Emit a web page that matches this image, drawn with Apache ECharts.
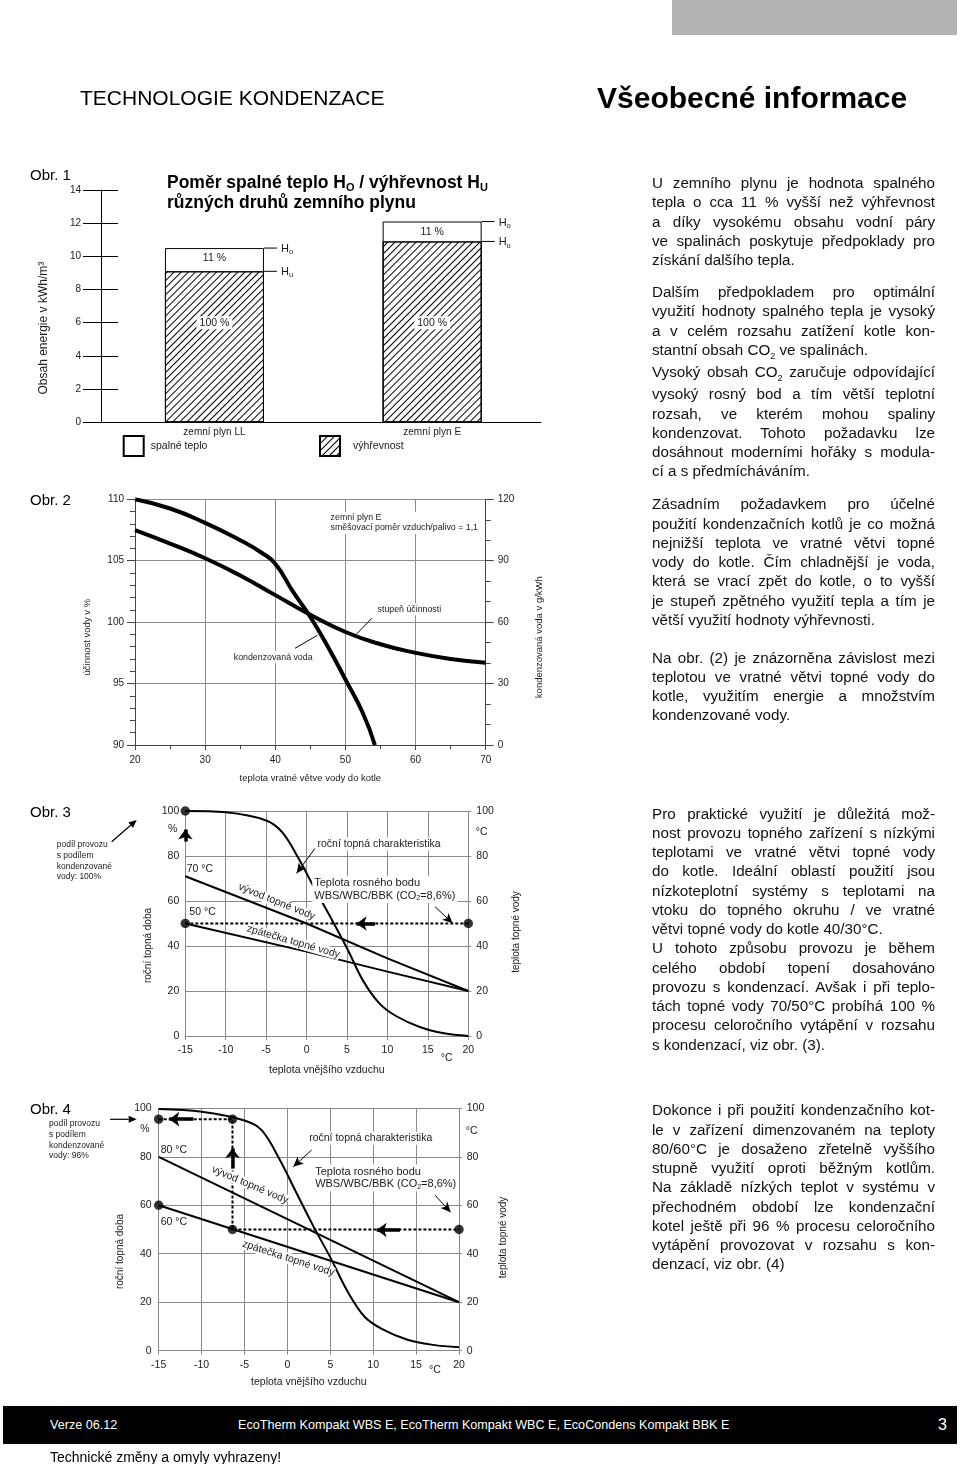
<!DOCTYPE html>
<html lang="cs">
<head>
<meta charset="utf-8">
<title>Technologie kondenzace</title>
<script src="https://cdn.jsdelivr.net/npm/echarts@6/dist/echarts.min.js"></script>
<style>
html,body{margin:0;padding:0;background:#fff;}
#page{position:relative;width:960px;height:1464px;overflow:hidden;font-family:'Liberation Sans',Arial,Helvetica,sans-serif;color:#000;}
#chart{position:absolute;left:0;top:0;width:960px;height:1464px;}
.t{position:absolute;white-space:nowrap;z-index:2;}
.col{position:absolute;left:652px;width:283px;font-size:15.2px;line-height:19.25px;z-index:2;color:#111;}
.col div{white-space:nowrap;}
.col .j{text-align:justify;text-align-last:justify;}
.sub{font-size:9px;position:relative;top:4px;}
</style>
</head>
<body>
<div id="page">
  <div id="chart"></div>
  <div class="t" style="left:672px;top:0;width:285px;height:35px;background:#b2b3b5;"></div>
  <div class="t" style="left:80px;top:84.5px;font-size:21px;line-height:26px;">TECHNOLOGIE KONDENZACE</div>
  <div class="t" style="left:597px;top:80px;font-size:30px;line-height:36px;font-weight:bold;">Všeobecné informace</div>

  <div class="t" style="left:30px;top:166.4px;font-size:15px;line-height:18px;">Obr. 1</div>
  <div class="t" style="left:30px;top:491.4px;font-size:15px;line-height:18px;">Obr. 2</div>
  <div class="t" style="left:30px;top:803px;font-size:15px;line-height:18px;">Obr. 3</div>
  <div class="t" style="left:30px;top:1100.4px;font-size:15px;line-height:18px;">Obr. 4</div>

  <div class="col" style="top:173.1px;">
    <div class="j">U zemního plynu je hodnota spalného</div>
    <div class="j">tepla o cca 11 % vyšší než výhřevnost</div>
    <div class="j">a díky vysokému obsahu vodní páry</div>
    <div class="j">ve spalinách poskytuje předpoklady pro</div>
    <div>získání dalšího tepla.</div>
  </div>
  <div class="col" style="top:282.1px;">
    <div class="j">Dalším předpokladem pro optimální</div>
    <div class="j">využití hodnoty spalného tepla je vysoký</div>
    <div class="j">a v celém rozsahu zatížení kotle kon-</div>
    <div>stantní obsah CO<span class="sub">2</span> ve spalinách.</div>
    <div class="j">Vysoký obsah CO<span class="sub">2</span> zaručuje odpovídající</div>
    <div class="j">vysoký rosný bod a tím větší teplotní</div>
    <div class="j">rozsah, ve kterém mohou spaliny</div>
    <div class="j">kondenzovat. Tohoto požadavku lze</div>
    <div class="j">dosáhnout moderními hořáky s modula-</div>
    <div>cí a s předmícháváním.</div>
  </div>
  <div class="col" style="top:494.4px;">
    <div class="j">Zásadním požadavkem pro účelné</div>
    <div class="j">použití kondenzačních kotlů je co možná</div>
    <div class="j">nejnižší teplota ve vratné větvi topné</div>
    <div class="j">vody do kotle. Čím chladnější je voda,</div>
    <div class="j">která se vrací zpět do kotle, o to vyšší</div>
    <div class="j">je stupeň zpětného využití tepla a tím je</div>
    <div>větší využití hodnoty výhřevnosti.</div>
  </div>
  <div class="col" style="top:647.7px;">
    <div class="j">Na obr. (2) je znázorněna závislost mezi</div>
    <div class="j">teplotou ve vratné větvi topné vody do</div>
    <div class="j">kotle, využitím energie a množstvím</div>
    <div>kondenzované vody.</div>
  </div>
  <div class="col" style="top:803.7px;">
    <div class="j">Pro praktické využití je důležitá mož-</div>
    <div class="j">nost provozu topného zařízení s nízkými</div>
    <div class="j">teplotami ve vratné větvi topné vody</div>
    <div class="j">do kotle. Ideální oblastí použití jsou</div>
    <div class="j">nízkoteplotní systémy s teplotami na</div>
    <div class="j">vtoku do topného okruhu / ve vratné</div>
    <div>větvi topné vody do kotle 40/30°C.</div>
    <div class="j">U tohoto způsobu provozu je během</div>
    <div class="j">celého období topení dosahováno</div>
    <div class="j">provozu s kondenzací. Avšak i při teplo-</div>
    <div class="j">tách topné vody 70/50°C probíhá 100 %</div>
    <div class="j">procesu celoročního vytápění v rozsahu</div>
    <div>s kondenzací, viz obr. (3).</div>
  </div>
  <div class="col" style="top:1100.4px;">
    <div class="j">Dokonce i při použití kondenzačního kot-</div>
    <div class="j">le v zařízení dimenzovaném na teploty</div>
    <div class="j">80/60°C je dosaženo zřetelně vyššího</div>
    <div class="j">stupně využití oproti běžným kotlům.</div>
    <div class="j">Na základě nízkých teplot v systému v</div>
    <div class="j">přechodném období lze kondenzační</div>
    <div class="j">kotel ještě při 96 % procesu celoročního</div>
    <div class="j">vytápění provozovat v rozsahu s kon-</div>
    <div>denzací, viz obr. (4)</div>
  </div>

  <div class="t" style="left:3px;top:1406px;width:954px;height:38px;background:#000;"></div>
  <div class="t" style="left:50px;top:1417px;font-size:12.6px;line-height:16px;color:#fff;">Verze 06.12</div>
  <div class="t" style="left:238px;top:1417px;font-size:12.6px;line-height:16px;color:#fff;">EcoTherm Kompakt WBS E, EcoTherm Kompakt WBC E, EcoCondens Kompakt BBK E</div>
  <div class="t" style="left:938px;top:1415px;font-size:16px;line-height:20px;color:#fff;">3</div>
  <div class="t" style="left:50px;top:1448px;font-size:14px;line-height:18px;">Technické změny a omyly vyhrazeny!</div>
</div>

<script>
// ===== Obr. 1 – spalné teplo / výhřevnost =====
const gasNames = ['zemní plyn LL', 'zemní plyn E'];
const grossHeatHo = [10.5, 12.1];      // kWh/m3
const netHeatHu = [9.1, 10.9];         // kWh/m3
const heatShareLabels = ['11 %', '100 %'];
const heatShareLabelLevel = 6;
const heatLevelSubs = ['o', 'u'];
const obr1LegendNames = ['spalné teplo', 'výhřevnost'];

// ===== Obr. 2 – účinnost a kondenzovaná voda =====
const obr2TempX = [20, 25, 30, 35, 40, 45, 50, 55, 60, 65, 70];
const obr2Efficiency = [107.5, 106.4, 105.2, 103.8, 102.2, 100.6, 99.2, 98.2, 97.5, 97.0, 96.7];
const obr2CondX = [20, 25, 30, 35, 38, 40, 42.5, 45, 47.5, 50, 52.5, 54.2];
const obr2Condensate = [120, 115.5, 108.5, 100, 94, 88.5, 75, 62.5, 48, 32, 15.5, 0];

// ===== Obr. 3 – 70/50 °C =====
const obr3OutX = [-15, -10, -5, -3, -1, 1, 3, 5, 7, 9, 11, 14, 17, 20];
const obr3Annual = [100, 99.4, 95.8, 90.5, 79, 65.5, 52.5, 39, 24.5, 14.5, 9, 4, 1.2, 0];
const obr3SupplyX = [-15, 0, 10, 20];
const obr3Supply = [71, 50, 34.5, 20];
const obr3ReturnX = [-15, 0, 10, 20];
const obr3Return = [50, 37.5, 28.6, 20];
const obr3DewX = [-15, 20];
const obr3Dew = [50, 50];
const obr3Dots = [[-15, 100], [-15, 50], [20, 50]];

// ===== Obr. 4 – 80/60 °C =====
const obr4OutX = [-15, -10, -5, -3, -1, 1, 3, 5, 7, 9, 11, 14, 17, 20];
const obr4Annual = [99.7, 98.6, 95, 91, 79.5, 65.5, 51.5, 38.5, 24.5, 14, 9, 4.5, 2.4, 1.4];
const obr4SupplyX = [-15, 20];
const obr4Supply = [80, 20];
const obr4ReturnX = [-15, 20];
const obr4Return = [60, 20];
const obr4DewX = [-15, -6.4, -6.4, 20];
const obr4Dew = [95.5, 95.5, 50, 50];
const obr4Dots = [[-15, 95.5], [-6.4, 95.5], [-15, 60], [-6.4, 50], [20, 50]];

// annotation anchors (data space)
const obr2Notes = [
  { at: [47.6, 108.07], text: 'zemní plyn E\nsměšovací poměr vzduch/palivo = 1,1' },
  { at: [54.3, 101.05], text: 'stupeň účinnosti' },
  { at: [33.8, 97.14], text: 'kondenzovaná voda' }
];
const obr2Leaders = [[[53.75, 100.31], [51.6, 99.04]], [[42.81, 97.87], [46.0, 98.93]]];

const FONT = 'Liberation Sans';
const TXT = '#1a1a1a';
const GRIDC = '#8a8a8a';
const AXC = '#444';

function pairs(xs, ys) { return xs.map((x, i) => [x, ys[i]]); }

function arrowG(x1, y1, x2, y2, w, hl, hw) {
  const dx = x2 - x1, dy = y2 - y1, L = Math.hypot(dx, dy), ux = dx / L, uy = dy / L;
  const bx = x2 - ux * hl, by = y2 - uy * hl, px = -uy, py = ux;
  return [
    { type: 'line', shape: { x1: x1, y1: y1, x2: bx, y2: by }, style: { stroke: '#000', lineWidth: w } },
    { type: 'polygon', shape: { points: [[x2, y2], [bx + px * hw / 2, by + py * hw / 2], [bx - px * hw / 2, by - py * hw / 2]] }, style: { fill: '#000' } }
  ];
}

function thinArrows(list) {
  return {
    silent: true, symbol: ['none', 'arrow'], symbolSize: [7, 10],
    label: { show: false }, lineStyle: { color: '#000', width: 1, type: 'solid' },
    data: list.map(l => [{ coord: l[0] }, { coord: l[1] }])
  };
}
function thickArrows(list) {
  return {
    silent: true, symbol: ['none', 'arrow'], symbolSize: [11, 10],
    label: { show: false }, lineStyle: { color: '#000', width: 3.5, type: 'solid' },
    data: list.map(l => [{ coord: l[0] }, { coord: l[1] }])
  };
}

const richSub = {
  t: { fontFamily: FONT, fontSize: 11, color: TXT, lineHeight: 12.5 },
  s: { fontFamily: FONT, fontSize: 7, color: TXT, lineHeight: 6, verticalAlign: 'bottom' }
};
const dewText = '{t|Teplota rosného bodu}\n{t|WBS/WBC/BBK (CO}{s|2}{t|=8,6%)}';

function heatingNotes(list) {
  return {
    silent: true, symbol: 'circle', symbolSize: 0, z: 10,
    label: { show: true, color: TXT, fontFamily: FONT, fontSize: 10.5 },
    data: list.map(n => ({
      coord: n.at,
      label: Object.assign({ formatter: n.text }, n.opt || {})
    }))
  };
}

const obr3Notes = [
  { at: [-14.83, 74.2], text: '70 °C', opt: { position: 'right', distance: 0 } },
  { at: [-14.5, 55], text: '50 °C', opt: { position: 'right', distance: 0 } },
  { at: [1.1, 85.3], text: 'roční topná charakteristika', opt: { position: 'right', distance: 0, backgroundColor: '#fff', padding: [1, 2] } },
  { at: [0.7, 65.15], text: dewText, opt: { position: 'right', distance: 0, backgroundColor: '#fff', padding: [1, 2], rich: richSub } },
  { at: [-3.7, 59.7], text: 'vývod topné vody', opt: { position: 'inside', rotate: -22, backgroundColor: '#fff' } },
  { at: [-1.64, 41.9], text: 'zpátečka topné vody', opt: { position: 'inside', rotate: -16, backgroundColor: '#fff' } }
];
const obr3Thin = [[[1.04, 83.4], [-1.23, 72.3]], [[15.88, 57.5], [18.06, 50.1]]];
const obr3Thick = [[[-15, 86.4], [-15, 91.8]], [[8.46, 50], [6.19, 50]]];

const obr4Notes = [
  { at: [-14.77, 82.8], text: '80 °C', opt: { position: 'right', distance: 0 } },
  { at: [-14.77, 53.2], text: '60 °C', opt: { position: 'right', distance: 0 } },
  { at: [2.3, 87.6], text: 'roční topná charakteristika', opt: { position: 'right', distance: 0, backgroundColor: '#fff', padding: [1, 2] } },
  { at: [3.0, 71.25], text: dewText, opt: { position: 'right', distance: 0, backgroundColor: '#fff', padding: [1, 2], rich: richSub } },
  { at: [-4.36, 68.4], text: 'vývod topné vody', opt: { position: 'inside', rotate: -23, backgroundColor: '#fff' } },
  { at: [0.11, 38.1], text: 'zpátečka topné vody', opt: { position: 'inside', rotate: -18, backgroundColor: '#fff' } }
];
const obr4Thin = [[[2.83, 82.8], [0.69, 75.9]], [[17.2, 64.2], [19.03, 57.1]]];
const obr4Thick = [[[-10.96, 95.5], [-13.76, 95.5]], [[-6.4, 75.2], [-6.4, 83.5]], [[13.12, 49.8], [10.4, 49.8]]];

const hLevels = [];
gasNames.forEach((g, i) => {
  hLevels.push([i, grossHeatHo[i], 0]);
  hLevels.push([i, netHeatHu[i], 1]);
});

const hatch = { symbol: 'rect', symbolSize: 1, color: '#000', dashArrayX: [1, 0], dashArrayY: [1, 4], rotation: -Math.PI / 4 };

function heatAxisX(gi, gap) {
  return {
    gridIndex: gi, type: 'value', min: -15, max: 20, interval: 5,
    axisLine: { show: true, lineStyle: { color: GRIDC } },
    axisTick: { show: true, length: 4, lineStyle: { color: GRIDC } },
    splitLine: { show: true, lineStyle: { color: GRIDC, width: 1 } },
    axisLabel: { color: TXT, fontFamily: FONT, fontSize: 10.5, margin: 9 },
    name: 'teplota vnějšího vzduchu', nameLocation: 'middle', nameGap: gap,
    nameTextStyle: { color: TXT, fontFamily: FONT, fontSize: 10.5 }
  };
}
function heatAxisY(gi, pos, margin, gap, name, split, shift) {
  return {
    gridIndex: gi, type: 'value', min: 0, max: 100, interval: 20, position: pos,
    axisLine: { show: true, lineStyle: { color: GRIDC } },
    axisTick: { show: true, length: 3, lineStyle: { color: GRIDC } },
    splitLine: { show: split, lineStyle: { color: GRIDC, width: 1 } },
    axisLabel: { color: TXT, fontFamily: FONT, fontSize: 10.5, margin: margin },
    name: name, nameLocation: 'middle', nameGap: gap, nameRotate: 90,
    nameTextStyle: { color: TXT, fontFamily: FONT, fontSize: 10, padding: [0, shift * 2, 0, 0] }
  };
}

const noteStyle = { fill: TXT, font: '8.5px "Liberation Sans"', lineHeight: 10.6 };

const option = {
  animation: false,
  backgroundColor: 'transparent',
  textStyle: { fontFamily: FONT },
  title: [{
    left: 167, top: 173.3, padding: 0,
    text: '{b|Poměr spalné teplo H}{s|O}{b| / výhřevnost H}{s|U}\n{b|různých druhů zemního plynu}',
    textStyle: {
      rich: {
        b: { fontFamily: FONT, fontSize: 17.5, fontWeight: 'bold', color: '#000', lineHeight: 20 },
        s: { fontFamily: FONT, fontSize: 11, fontWeight: 'bold', color: '#000', lineHeight: 6, verticalAlign: 'bottom' }
      }
    }
  }],
  legend: [
    { data: [obr1LegendNames[0]], left: 122.7, top: 435, padding: 0, itemWidth: 20, itemHeight: 20, icon: 'rect', selectedMode: false,
      textStyle: { color: TXT, fontFamily: FONT, fontSize: 10.5, padding: [12, 0, 0, 2] } },
    { data: [obr1LegendNames[1]], left: 319, top: 435, padding: 0, itemWidth: 20, itemHeight: 20, icon: 'rect', selectedMode: false,
      textStyle: { color: TXT, fontFamily: FONT, fontSize: 10.5, padding: [12, 0, 0, 8] } }
  ],
  grid: [
    { left: 105.6, top: 190, width: 435.4, height: 232.3, outerBoundsMode: 'none' },
    { left: 135, top: 499.3, width: 350.7, height: 245.7, outerBoundsMode: 'none' },
    { left: 185.3, top: 811, width: 283, height: 225, outerBoundsMode: 'none' },
    { left: 158.7, top: 1108.3, width: 300.3, height: 242.4, outerBoundsMode: 'none' }
  ],
  xAxis: [
    { gridIndex: 0, type: 'category', data: gasNames,
      axisLine: { show: true, lineStyle: { color: '#000', width: 1 } }, axisTick: { show: false },
      axisLabel: { color: TXT, fontFamily: FONT, fontSize: 10, margin: 5 }, splitLine: { show: false } },
    { gridIndex: 1, type: 'value', min: 20, max: 70, interval: 10,
      axisLine: { show: true, lineStyle: { color: AXC } },
      axisTick: { show: true, length: 5, lineStyle: { color: AXC } },
      minorTick: { show: true, splitNumber: 2, length: 4, lineStyle: { color: AXC } },
      splitLine: { show: true, lineStyle: { color: GRIDC, width: 1 } },
      axisLabel: { color: TXT, fontFamily: FONT, fontSize: 10, margin: 10 },
      name: 'teplota vratné větve vody do kotle', nameLocation: 'middle', nameGap: 28,
      nameTextStyle: { color: TXT, fontFamily: FONT, fontSize: 9.5 } },
    heatAxisX(2, 28.5),
    heatAxisX(3, 26)
  ],
  yAxis: [
    { gridIndex: 0, type: 'value', min: 0, max: 14, interval: 2, position: 'left', offset: 4.6,
      axisLine: { show: true, lineStyle: { color: '#000' } },
      axisTick: { show: true, length: 18, lineStyle: { color: '#000' } },
      axisLabel: { color: TXT, fontFamily: FONT, fontSize: 10, margin: 20 }, splitLine: { show: false },
      name: 'Obsah energie v kWh/m³', nameLocation: 'middle', nameGap: 51,
      nameTextStyle: { color: TXT, fontFamily: FONT, fontSize: 12, padding: [0, 44, 0, 0] } },
    { gridIndex: 0, type: 'value', min: 0, max: 14, interval: 2, position: 'left', offset: 4.6,
      axisLine: { show: false }, axisTick: { show: true, inside: true, length: 17, lineStyle: { color: '#000' } },
      axisLabel: { show: false }, splitLine: { show: false } },
    { gridIndex: 1, type: 'value', min: 90, max: 110, interval: 5, position: 'left',
      axisLine: { show: true, lineStyle: { color: AXC } },
      axisTick: { show: true, length: 8, lineStyle: { color: AXC } },
      minorTick: { show: true, splitNumber: 5, length: 5, lineStyle: { color: AXC } },
      splitLine: { show: true, lineStyle: { color: GRIDC, width: 1 } },
      axisLabel: { color: TXT, fontFamily: FONT, fontSize: 10, margin: 11 },
      name: 'účinnost vody v %', nameLocation: 'middle', nameGap: 43, nameRotate: 90,
      nameTextStyle: { color: TXT, fontFamily: FONT, fontSize: 9.5, padding: [0, 30, 0, 0] } },
    { gridIndex: 1, type: 'value', min: 0, max: 120, interval: 30, position: 'right',
      axisLine: { show: true, lineStyle: { color: AXC } },
      axisTick: { show: true, length: 8, lineStyle: { color: AXC } },
      minorTick: { show: true, splitNumber: 3, length: 5, lineStyle: { color: AXC } },
      splitLine: { show: false },
      axisLabel: { color: TXT, fontFamily: FONT, fontSize: 10, margin: 12 },
      name: 'kondenzovaná voda v g/kWh', nameLocation: 'middle', nameGap: 49, nameRotate: 90,
      nameTextStyle: { color: TXT, fontFamily: FONT, fontSize: 9.5, padding: [0, 30, 0, 0] } },
    heatAxisY(2, 'left', 6, 32, 'roční topná doba', true, 22),
    heatAxisY(2, 'right', 8, 43, 'teplota topné vody', false, 8.5),
    heatAxisY(3, 'left', 7, 33, 'roční topná doba', true, 22),
    heatAxisY(3, 'right', 7.7, 39, 'teplota topné vody', false, 8)
  ],
  series: [
    // ---- Obr. 1
    { name: obr1LegendNames[0], type: 'bar', xAxisIndex: 0, yAxisIndex: 0, data: grossHeatHo,
      barWidth: 99, barGap: '-100%', z: 2,
      itemStyle: { color: '#fff', borderColor: '#000', borderWidth: 1 },
      label: { show: true, position: 'insideTop', distance: 5, formatter: heatShareLabels[0], color: TXT, fontFamily: FONT, fontSize: 10.5 } },
    { name: obr1LegendNames[1], type: 'bar', xAxisIndex: 0, yAxisIndex: 0, data: netHeatHu,
      barWidth: 99, barGap: '-100%', z: 3,
      itemStyle: { color: '#fff', borderColor: '#000', borderWidth: 1, decal: hatch },
      markPoint: { silent: true, symbol: 'circle', symbolSize: 0, z: 10,
        label: { show: true, formatter: heatShareLabels[1], backgroundColor: '#fff', padding: [1, 3], color: TXT, fontFamily: FONT, fontSize: 10.5 },
        data: gasNames.map(g => ({ coord: [g, heatShareLabelLevel] })) } },
    { type: 'custom', xAxisIndex: 0, yAxisIndex: 0, data: hLevels, z: 4, silent: true,
      renderItem: function (params, api) {
        const p = api.coord([api.value(0), api.value(1)]);
        const x0 = p[0] + 49.5;
        const sub = heatLevelSubs[api.value(2)];
        return { type: 'group', children: [
          { type: 'line', shape: { x1: x0, y1: p[1], x2: x0 + 13, y2: p[1] }, style: { stroke: '#000', lineWidth: 1 } },
          { type: 'text', x: x0 + 17, y: p[1] + 1, style: {
              text: '{h|H}{s|' + sub + '}', align: 'left', verticalAlign: 'middle',
              rich: {
                h: { fontFamily: FONT, fontSize: 11, fill: TXT, lineHeight: 14 },
                s: { fontFamily: FONT, fontSize: 7.5, fill: TXT, lineHeight: 6, verticalAlign: 'bottom' }
              } } }
        ] };
      } },

    // ---- Obr. 2
    { type: 'line', xAxisIndex: 1, yAxisIndex: 2, data: pairs(obr2TempX, obr2Efficiency), smooth: true, symbol: 'none',
      lineStyle: { color: '#000', width: 4 }, z: 3,
      markLine: { silent: true, symbol: 'none', label: { show: false }, lineStyle: { color: '#000', width: 1, type: 'solid' },
        data: obr2Leaders.map(l => [{ coord: l[0] }, { coord: l[1] }]) },
      markPoint: { silent: true, symbol: 'circle', symbolSize: 0, z: 10,
        label: { show: true, position: 'right', distance: 0, backgroundColor: '#fff', padding: [1, 2], color: TXT, fontFamily: FONT, fontSize: 8.8, lineHeight: 10 },
        data: obr2Notes.map(n => ({ coord: n.at, label: { formatter: n.text } })) } },
    { type: 'line', xAxisIndex: 1, yAxisIndex: 3, data: pairs(obr2CondX, obr2Condensate), smooth: true, symbol: 'none',
      lineStyle: { color: '#000', width: 4 }, z: 3 },

    // ---- Obr. 3
    { type: 'line', xAxisIndex: 2, yAxisIndex: 4, data: pairs(obr3OutX, obr3Annual), smooth: 0.35, symbol: 'none',
      lineStyle: { color: '#000', width: 2 }, z: 3,
      markLine: thinArrows(obr3Thin), markPoint: heatingNotes(obr3Notes) },
    { type: 'line', xAxisIndex: 2, yAxisIndex: 4, data: pairs(obr3SupplyX, obr3Supply), symbol: 'none', lineStyle: { color: '#000', width: 2 }, z: 3 },
    { type: 'line', xAxisIndex: 2, yAxisIndex: 4, data: pairs(obr3ReturnX, obr3Return), symbol: 'none', lineStyle: { color: '#000', width: 2 }, z: 3 },
    { type: 'line', xAxisIndex: 2, yAxisIndex: 4, data: pairs(obr3DewX, obr3Dew), symbol: 'none', lineStyle: { color: '#000', width: 2, type: [3, 2] }, z: 3,
      markLine: thickArrows(obr3Thick) },
    { type: 'scatter', xAxisIndex: 2, yAxisIndex: 4, data: obr3Dots, symbolSize: 9.5, itemStyle: { color: '#000' }, z: 6, silent: true },

    // ---- Obr. 4
    { type: 'line', xAxisIndex: 3, yAxisIndex: 6, data: pairs(obr4OutX, obr4Annual), smooth: 0.35, symbol: 'none',
      lineStyle: { color: '#000', width: 2 }, z: 3,
      markLine: thinArrows(obr4Thin), markPoint: heatingNotes(obr4Notes) },
    { type: 'line', xAxisIndex: 3, yAxisIndex: 6, data: pairs(obr4SupplyX, obr4Supply), symbol: 'none', lineStyle: { color: '#000', width: 2 }, z: 3 },
    { type: 'line', xAxisIndex: 3, yAxisIndex: 6, data: pairs(obr4ReturnX, obr4Return), symbol: 'none', lineStyle: { color: '#000', width: 2 }, z: 3 },
    { type: 'line', xAxisIndex: 3, yAxisIndex: 6, data: pairs(obr4DewX, obr4Dew), symbol: 'none', lineStyle: { color: '#000', width: 2, type: [3, 2] }, z: 3,
      markLine: thickArrows(obr4Thick) },
    { type: 'scatter', xAxisIndex: 3, yAxisIndex: 6, data: obr4Dots, symbolSize: 9.5, itemStyle: { color: '#000' }, z: 6, silent: true }
  ],
  graphic: [
    { type: 'text', x: 172.7, y: 829, style: { text: '%', fill: TXT, font: '10.5px "Liberation Sans"', align: 'center', verticalAlign: 'middle' } },
    { type: 'text', x: 481.7, y: 831.7, style: { text: '°C', fill: TXT, font: '10.5px "Liberation Sans"', align: 'center', verticalAlign: 'middle' } },
    { type: 'text', x: 446.7, y: 1058, style: { text: '°C', fill: TXT, font: '10.5px "Liberation Sans"', align: 'center', verticalAlign: 'middle' } },
    { type: 'text', x: 56.7, y: 839.7, style: Object.assign({ text: 'podíl provozu\ns podílem\nkondenzované\nvody: 100%', verticalAlign: 'top' }, noteStyle) },
    { type: 'group', children: arrowG(111.7, 841.7, 136.7, 820, 1.2, 8, 7) },
    { type: 'text', x: 145, y: 1129, style: { text: '%', fill: TXT, font: '10.5px "Liberation Sans"', align: 'center', verticalAlign: 'middle' } },
    { type: 'text', x: 471.7, y: 1131, style: { text: '°C', fill: TXT, font: '10.5px "Liberation Sans"', align: 'center', verticalAlign: 'middle' } },
    { type: 'text', x: 435, y: 1370, style: { text: '°C', fill: TXT, font: '10.5px "Liberation Sans"', align: 'center', verticalAlign: 'middle' } },
    { type: 'text', x: 49, y: 1118.8, style: Object.assign({ text: 'podíl provozu\ns podílem\nkondenzované\nvody: 96%', verticalAlign: 'top' }, noteStyle) },
    { type: 'group', children: arrowG(110, 1119.3, 136.7, 1119.3, 1.2, 8, 7) }
  ]
};

const chart = echarts.init(document.getElementById('chart'), null, { renderer: 'canvas' });
chart.setOption(option);
</script>
</body>
</html>
